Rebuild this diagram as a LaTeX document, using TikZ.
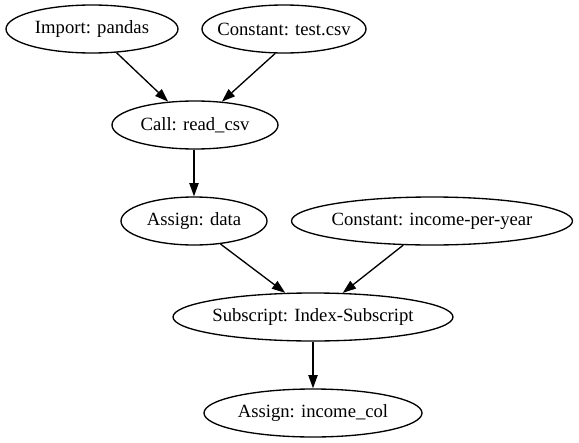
\documentclass[tikz,border=0pt]{standalone}
\usepackage{fontspec}
\setmainfont{Liberation Serif}
\usetikzlibrary{shapes.geometric,arrows.meta}
\begin{document}
\begin{tikzpicture}[x=0.75pt,y=-0.75pt,
  gnode/.style={draw,ellipse,line width=1pt,inner sep=0pt,minimum height=36pt,
    label={[font=\fontsize{14}{16}\selectfont,inner sep=0pt]center:#1}},
  gedge/.style={draw,line width=1pt,-{Triangle[length=10pt,width=7pt]}}]
\useasboundingbox (0,0) rectangle (579,443);
\node[gnode={Import: pandas},minimum width=129pt] (imp) at (92,29) {};
\node[gnode={Constant: test.csv},minimum width=123pt] (csv) at (284,29) {};
\node[gnode={Call: read\_csv},minimum width=124.5pt] (call) at (195,125) {};
\node[gnode={Assign: data},minimum width=109.5pt] (data) at (194,221) {};
\node[gnode={Constant: income-per-year},minimum width=210.75pt] (ipy) at (432,221) {};
\node[gnode={Subscript: Index-Subscript},minimum width=210pt] (sub) at (313,317) {};
\node[gnode={Assign: income\_col},minimum width=163.5pt] (col) at (313,413) {};
\draw[gedge] (imp.-44) -- (call.139);
\draw[gedge] (csv.-110) -- (call.41);
\draw[gedge] (call.south -| data) -- (data.north);
\draw[gedge] (data.-41) -- (sub.139);
\draw[gedge] (ipy.-140) -- (sub.39);
\draw[gedge] (sub.south) -- (col.north);
\end{tikzpicture}
\end{document}
